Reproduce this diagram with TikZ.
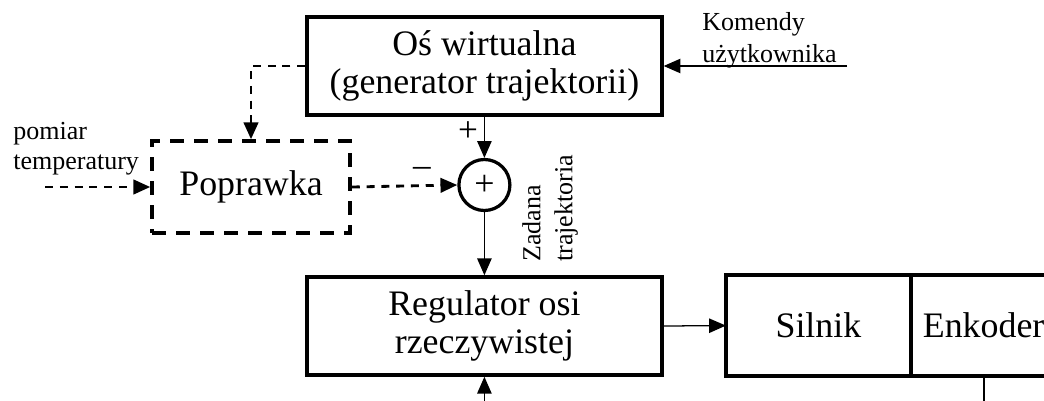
\documentclass[tikz,border=0pt]{standalone}
\usepackage{fontspec}
\setmainfont{Liberation Serif}
\usepackage{tikz}
\usetikzlibrary{arrows.meta, positioning, shapes.geometric}
\newcommand{\bigtxt}{\fontsize{25.5}{27}\selectfont}
\newcommand{\smalltxt}{\fontsize{18.5}{22.8}\selectfont}
\tikzset{
    block/.style ={rectangle, draw, line width=2.5pt, font=\bigtxt, align=center},
    corr/.style ={rectangle, draw, line width=2.5pt, dash pattern=on 0.35cm off 0.25cm, font=\bigtxt},
    sumnode/.style ={circle, draw, line width=2.3pt, minimum size=1.275cm, inner sep=0pt, font=\bigtxt},
    sig/.style ={line width=0.9pt, ->},
    aux/.style ={line width=2pt, dash pattern=on 0.2cm off 0.17cm, ->},
    lbl/.style ={inner sep=0pt, align=left, font=\smalltxt}
    }

\begin{document}
\begin{tikzpicture}[
      > = {Triangle[length=0.42cm, width=0.36cm]}, % filled arrow heads
      line join = miter
    ]
    \useasboundingbox (0,0) rectangle (26.1,-10.025);
    \clip (0,0) rectangle (26.1,-10.025); % encoder box runs past the edge

    % blocks
    \node[block, minimum width=8.875cm, minimum height=2.45cm] (os) at (12.11,-1.65) {Oś wirtualna\\(generator trajektorii)};
    \node[sumnode] (sum) at (12.11,-4.625) {+};
    \node[corr, minimum width=4.95cm, minimum height=2.3cm] (popr) at (6.275,-4.675) {Poprawka};
    \node[block, minimum width=8.875cm, minimum height=2.45cm] (reg) at (12.11,-8.15) {Regulator osi\\rzeczywistej};
    \node[block, outer sep=0pt, minimum width=4.625cm, minimum height=2.525cm] (silnik) at (20.46,-8.14) {Silnik};
    \node[block, outer sep=0pt, anchor=west, minimum height=2.525cm, text width=4.125cm, inner xsep=0.3cm, align=left] (enk) at (silnik.east) {Enkoder};

    % signal labels
    \node[lbl, anchor=north west] (kom) at (17.55,-0.3) {Komendy\\użytkownika};
    \node[lbl, anchor=north west, font=\fontsize{18.5}{21.3}\selectfont] (temp) at (0.325,-3.05) {pomiar\\temperatury};
    \node[lbl, font=\fontsize{25}{28}\selectfont] (plus) at (11.7,-3.3) {+};
    \node[lbl, font=\fontsize{25}{28}\selectfont] (minus) at (10.55,-4.3) {–};
    \node[lbl, rotate=90, anchor=north west] (zad) at (13.05,-6.55) {Zadana\\trajektoria};

    % free ends of the signals
    \coordinate (komin) at (21.175,-1.65);
    \coordinate (tempin) at (1.125,-4.675);
    \coordinate (regin) at (12.11,-10.3);
    \coordinate (enkout) at (24.6,-10.3);

    \path (komin) edge[sig] (os.east);
    \path (os.south) edge[sig] (sum.north);
    \draw[aux] (os.west) -| (popr.north);
    \path (tempin) edge[aux] (popr.west);
    \path (popr.east) edge[aux] (sum.west);
    \path (sum.south) edge[sig] (reg.north);
    \path (reg.east) edge[sig] (silnik.west);
    \path (regin) edge[sig] (reg.south);
    \draw[sig, -] (enkout |- enk.south) -- (enkout);
\end{tikzpicture}
\end{document}
